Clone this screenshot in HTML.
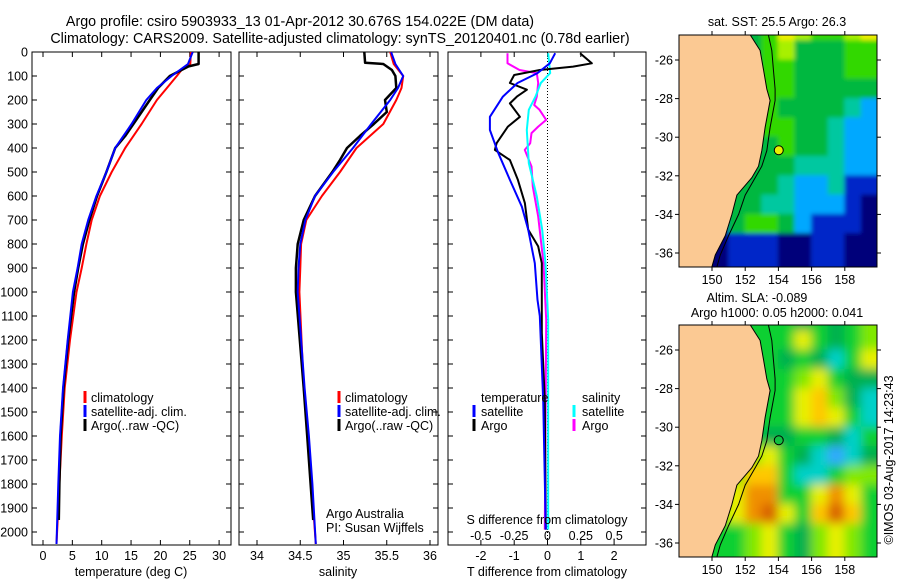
<!DOCTYPE html>
<html><head><meta charset="utf-8">
<style>
html,body{margin:0;padding:0;background:#fff;overflow:hidden;width:900px;height:580px;}
svg{display:block;font-family:"Liberation Sans",sans-serif;}
</style></head>
<body>
<svg id="fig" width="900" height="580" viewBox="0 0 900 580" xmlns="http://www.w3.org/2000/svg">
<defs>
<clipPath id="c1"><rect x="32" y="52" width="199" height="493"/></clipPath>
<clipPath id="c2"><rect x="239" y="52" width="199" height="493"/></clipPath>
<clipPath id="c3"><rect x="448" y="52" width="198" height="493"/></clipPath>
<clipPath id="m1"><rect x="679" y="35" width="198" height="232"/></clipPath>
<clipPath id="m2"><rect x="679" y="325" width="198" height="232"/></clipPath>
<filter id="blur" x="-10%" y="-10%" width="120%" height="120%"><feGaussianBlur stdDeviation="5"/></filter>
<filter id="blur1" x="-10%" y="-10%" width="120%" height="120%"><feGaussianBlur stdDeviation="2"/></filter>
</defs>
<text x="300" y="26" font-size="14.3" text-anchor="middle">Argo profile: csiro 5903933_13 01-Apr-2012 30.676S 154.022E (DM data)</text>
<text x="340" y="43" font-size="14.3" text-anchor="middle">Climatology: CARS2009. Satellite-adjusted climatology: synTS_20120401.nc (0.78d earlier)</text>
<g id="layer"></g>
</svg>
<script>
// ---------- data ----------
const depthT=[0,50,75,100,150,200,300,400,500,600,700,800,900,1000,1200,1400,1600,1800,2050];
const climT=[25.2,25.1,23.6,22.8,21.1,19.4,16.8,14.0,11.7,9.7,8.3,7.4,6.6,5.7,4.6,3.7,3.2,2.8,2.3];
const satT=[25.5,24.7,23.3,21.9,19.4,17.6,15.1,12.3,10.8,9.1,7.7,6.6,5.9,5.1,4.2,3.4,2.9,2.6,2.3];
const depthA=[0,50,60,75,100,150,200,250,300,350,400,500,600,700,800,900,1000,1200,1400,1600,1800,1950];
const argoT=[26.5,26.5,24.8,23.6,21.6,19.6,18.2,16.8,15.4,14.0,12.3,10.8,9.2,7.9,6.8,6.0,5.3,4.3,3.5,3.0,2.8,2.7];
const depthS=[0,50,100,150,200,300,400,500,600,700,800,900,1000,1400,1600,1800,2050];
const climS=[35.54,35.58,35.69,35.67,35.61,35.46,35.15,34.96,34.75,34.57,34.51,34.50,34.49,34.54,34.59,34.63,34.68];
const satS=[35.55,35.60,35.69,35.63,35.54,35.32,35.11,34.88,34.67,34.56,34.50,34.48,34.47,34.55,34.60,34.64,34.68];
const depthAS=[0,45,50,75,100,150,200,250,300,350,400,450,500,600,700,800,900,1000,1400,1600,1800,1950];
const argoS=[35.24,35.25,35.46,35.56,35.60,35.61,35.48,35.50,35.35,35.19,35.04,34.96,34.87,34.67,34.54,34.47,34.45,34.45,34.54,34.58,34.62,34.65];
const dDepthSatT=[5,47,88,129,186,270,325,420,533,645,740,880,1033,1100,1450,1990];
const dSatT=[0.23,0.07,-0.3,-0.9,-1.34,-1.73,-1.73,-1.48,-1.13,-0.77,-0.58,-0.38,-0.3,-0.23,-0.13,-0.05];
const dDepthArgoT=[5,47,61,75,96,129,157,186,214,270,311,380,408,450,533,630,740,810,880,1090,1170,1450,1990];
const dArgoT=[0.98,1.33,0.77,-0.23,-1.0,-1.13,-0.62,-0.92,-1.13,-0.83,-1.19,-1.53,-1.58,-1.13,-0.89,-0.68,-0.58,-0.28,-0.17,-0.17,-0.17,-0.08,-0.05];
const dDepthArgoS=[5,47,75,88,129,186,221,241,283,311,338,380,408,436,477,561,686,880,1116,1990];
const dArgoS=[-0.30,-0.30,-0.21,-0.08,-0.07,-0.08,-0.10,-0.06,-0.01,-0.07,-0.12,-0.13,-0.17,-0.15,-0.12,-0.11,-0.07,-0.03,-0.01,-0.02];
const dDepthSatS=[5,88,129,186,241,325,463,602,740,880,1116,1990];
const dSatS=[0.005,0.02,-0.05,-0.09,-0.14,-0.155,-0.14,-0.08,-0.04,-0.015,0.005,0.005];
const depthTicks=[0,100,200,300,400,500,600,700,800,900,1000,1100,1200,1300,1400,1500,1600,1700,1800,1900,2000];
const tempTicks=[0,5,10,15,20,25,30];
const salTicks=[34,34.5,35,35.5,36];
const salTickLabels=['34','34.5','35','35.5','36'];
const tdTicks=[-2,-1,0,1,2];
const sdTicks=[-0.5,-0.25,0,0.25,0.5];
const sdTickLabels=['-0.5','-0.25','0','0.25','0.5'];
const lonTicks=[150,152,154,156,158];
const latTicks=[-26,-28,-30,-32,-34,-36];
// map grids: rows lat -25..-36, cols lon 148..159 (land cells covered by land)
const sstGrid=[
[4,4,4,4,4,5,7,6,5,5,6,7],
[4,4,4,4,4,5,6,4,4,4,5,5],
[4,4,4,4,4,5,5,4,4,4,5,5],
[4,4,4,4,4,5,5,4,4,4,4,4],
[4,4,4,4,4,5,4,4,4,4,3,2],
[4,4,4,4,4,5,5,4,4,3,2,2],
[4,4,4,4,4,4,5,4,4,3,2,2],
[4,4,4,4,4,4,4,3,3,3,2,2],
[4,4,4,4,4,4,3,2,2,3,1,1],
[2,2,2,4,4,3,3,2,2,2,1,0],
[1,1,1,4,5,5,4,2,1,1,1,0],
[0,0,0,1,1,1,0,0,1,1,0,0]];
const slaGrid=[
[3,3,3,3,3,3,3,2,3,2,3,4],
[3,3,3,3,3,3,3,5,3,2,3,4],
[3,3,3,3,3,3,2,3,2,1,3,5],
[3,3,3,3,3,3,3,4,5,3,2,2],
[3,3,3,3,3,3,3,5,6,4,2,1],
[3,3,3,3,3,3,3,5,6,5,3,1],
[3,3,3,3,3,2,2,3,3,2,1,3],
[3,3,3,3,4,5,3,2,1,0,1,2],
[3,3,3,4,6,6,3,1,1,3,4,4],
[3,3,4,5,7,7,3,3,5,7,5,3],
[3,3,4,5,7,8,5,3,6,8,6,3],
[3,3,3,3,4,5,3,2,4,5,4,3]];
const coastLat=[-24.7,-25.5,-26.5,-27.5,-28.1,-29.5,-30.7,-31.5,-32.1,-33.0,-34.0,-35.1,-36.1,-36.7];
const coastLon=[152.3,152.9,153.1,153.3,153.5,153.2,153.0,152.8,152.4,151.5,151.2,150.8,150.2,150.0];
const isoLon=[153.4,153.6,153.7,153.8,153.8,153.5,153.3,153.0,152.6,152.0,151.6,151.0,150.5,150.3];
const argoLon=154.022, argoLat=-30.676;

// ---------- helpers ----------
const NS='http://www.w3.org/2000/svg';
const layer=document.getElementById('layer');
function mk(tag,attrs,parent){const e=document.createElementNS(NS,tag);for(const k in attrs)e.setAttribute(k,attrs[k]);(parent||layer).appendChild(e);return e;}
const Y=d=>52+d*0.24;
const xT=v=>43+v*5.87;
const xS=v=>257+(v-34)*86.5;
const xTD=v=>547.5+v*33.3;
const xSD=v=>547.5+v*133.3;
const mx=lon=>712+(lon-150)*16.6;
const my1=lat=>60+(-26-lat)*19.3;
const my2=lat=>350+(-26-lat)*19.3;

function stepPath(xs,ds,fx){let p='';for(let i=0;i<xs.length;i++){p+=(i?'L':'M')+fx(xs[i]).toFixed(1)+','+Y(ds[i]).toFixed(1);}return p;}
function line(xs,ds,fx,color,w,clip,name){
  const e=mk('path',{d:stepPath(xs,ds,fx),fill:'none',stroke:color,'stroke-width':w,'clip-path':'url(#'+clip+')','stroke-linejoin':'round'});
  
  
}
function frame(x,y,w,h,name){
  const e=mk('rect',{x:x,y:y,width:w,height:h,fill:'none',stroke:'#000','stroke-width':1});
  
  
}
function txt(x,y,s,anchor,size,name){
  const e=mk('text',{x:x,y:y,'font-size':size||12,'text-anchor':anchor||'start'});e.textContent=s;
  
  
  return e;
}
function depthTicksFor(x0,x1,withLabels){
  depthTicks.forEach(d=>{const y=Y(d);
    mk('line',{x1:x0,y1:y,x2:x0+5,y2:y,stroke:'#000'});
    mk('line',{x1:x1,y1:y,x2:x1-5,y2:y,stroke:'#000'});
    if(withLabels) txt(28,y+4.5,String(d),'end',12.5,'depth-tick-label');
  });
}
function xTicks(vals,labels,fx,x0,x1,top,bot,ly,name){
  vals.forEach((v,i)=>{const x=fx(v);
    mk('line',{x1:x,y1:top,x2:x,y2:top+5,stroke:'#000'});
    mk('line',{x1:x,y1:bot,x2:x,y2:bot-5,stroke:'#000'});
    if(ly) txt(x,ly,labels[i],'middle',12.5,name);
  });
}
function legendMark(x,y,color){mk('line',{x1:x,y1:y-11,x2:x,y2:y+1,stroke:color,'stroke-width':3});}

// ---------- panel 1: temperature ----------
frame(32,52,199,493,'temperature-panel');
depthTicksFor(32,231,true);
xTicks(tempTicks,tempTicks.map(String),xT,32,231,52,545,560,'temperature-tick-label');
line(climT,depthT,xT,'#ff0000',2,'c1','temp-climatology-line');
line(argoT,depthA,xT,'#000000',2.5,'c1','temp-argo-line');
line(satT,depthT,xT,'#0000ff',2,'c1','temp-satellite-line');
txt(131,576,'temperature (deg C)','middle',12.5,'temperature-axis-title');
legendMark(85,402,'#ff0000');txt(91,402,'climatology','start',12.5,'legend-climatology');
legendMark(85,416,'#0000ff');txt(91,416,'satellite-adj. clim.','start',12.5,'legend-satellite');
legendMark(85,430,'#000');txt(91,430,'Argo(..raw -QC)','start',12.5,'legend-argo');

// ---------- panel 2: salinity ----------
frame(239,52,199,493,'salinity-panel');
depthTicksFor(239,438,false);
xTicks(salTicks,salTickLabels,xS,239,438,52,545,560,'salinity-tick-label');
line(climS,depthS,xS,'#ff0000',2,'c2','sal-climatology-line');
line(argoS,depthAS,xS,'#000000',2.5,'c2','sal-argo-line');
line(satS,depthS,xS,'#0000ff',2,'c2','sal-satellite-line');
txt(338,576,'salinity','middle',12.5,'salinity-axis-title');
legendMark(339,402,'#ff0000');txt(345,402,'climatology','start',12.5,'legend-climatology-2');
legendMark(339,416,'#0000ff');txt(345,416,'satellite-adj. clim.','start',12.5,'legend-satellite-2');
legendMark(339,430,'#000');txt(345,430,'Argo(..raw -QC)','start',12.5,'legend-argo-2');
txt(326,518,'Argo Australia','start',12.5,'credit-argo-australia');
txt(326,532,'PI: Susan Wijffels','start',12.5,'credit-pi');

// ---------- panel 3: differences ----------
frame(448,52,198,493,'difference-panel');
depthTicksFor(448,646,false);
xTicks(tdTicks,tdTicks.map(String),xTD,448,646,52,545,560,'tdiff-tick-label');
mk('line',{x1:xTD(0),y1:52,x2:xTD(0),y2:545,stroke:'#000','stroke-dasharray':'1,2'});
line(dArgoS,dDepthArgoS,xSD,'#ff00ff',2,'c3','sdiff-argo-line');
line(dSatS,dDepthSatS,xSD,'#00ffff',2,'c3','sdiff-satellite-line');
line(dArgoT,dDepthArgoT,xTD,'#000000',2,'c3','tdiff-argo-line');
line(dSatT,dDepthSatT,xTD,'#0000ff',2,'c3','tdiff-satellite-line');
sdTicks.forEach((v,i)=>txt(xSD(v),540,sdTickLabels[i],'middle',12.5,'sdiff-tick-label'));
txt(547,524,'S difference from climatology','middle',12.5,'sdiff-axis-title');
txt(547,576,'T difference from climatology','middle',12.5,'tdiff-axis-title');
txt(481,402,'temperature','start',12.5,'legend-temperature-heading');
legendMark(474,416,'#0000ff');txt(481,416,'satellite','start',12.5,'legend-t-satellite');
legendMark(474,430,'#000');txt(481,430,'Argo','start',12.5,'legend-t-argo');
txt(582,402,'salinity','start',12.5,'legend-salinity-heading');
legendMark(574,416,'#00ffff');txt(582,416,'satellite','start',12.5,'legend-s-satellite');
legendMark(574,430,'#ff00ff');txt(582,430,'Argo','start',12.5,'legend-s-argo');

// ---------- maps ----------
const sstCols=['#00007a','#0028c8','#00a8ff','#00c8a0','#00b840','#30d800','#a8f000','#f0f000'];
const slaCols=['#30a8ff','#00d0c8','#00b050','#10d030','#80e800','#e8f000','#ffc800','#f09000','#d86000'];
function drawMap(grid,cols,my,clip,top,name,blur){
  const g=mk('g',{'clip-path':'url(#'+clip+')'});
  
  
  const inner=mk('g',{filter:'url(#'+blur+')'},g);
  const nr=grid.length, nc=grid[0].length;
  for(let r=-2;r<nr+2;r++){for(let c=-2;c<nc+2;c++){
    const rr=Math.min(nr-1,Math.max(0,r)), cc=Math.min(nc-1,Math.max(0,c));
    const v=grid[rr][cc];
    const lat=-24.5-r, lon=148+c;
    const cell=mk('rect',{x:mx(lon)-0.5,y:my(lat+0.5)-0.5,width:17.6,height:20.3,fill:cols[v]},inner);
    
    
  }}
  // land
  let p='M'+mx(140)+','+my(-20);
  coastLat.forEach((la,i)=>{p+='L'+mx(coastLon[i]).toFixed(1)+','+my(la).toFixed(1);});
  p+='L'+mx(coastLon[coastLon.length-1])+','+my(-40)+'L'+mx(140)+','+my(-40)+'Z';
  const land=mk('path',{d:p,fill:'#fbc993',stroke:'#000','stroke-width':1},g);
  
  
  let q='';isoLon.forEach((lo,i)=>{q+=(i?'L':'M')+mx(lo).toFixed(1)+','+my(coastLat[i]).toFixed(1);});
  mk('path',{d:q,fill:'none',stroke:'#000','stroke-width':1},g);
  const c=mk('circle',{cx:mx(argoLon),cy:my(argoLat),r:4.5,fill:grid===sstGrid?'#e8f000':'#10c040',stroke:'#000','stroke-width':1},g);
  
  
  frame(679,top,198,232,name+'-frame');
  lonTicks.forEach(l=>{const x=mx(l);mk('line',{x1:x,y1:top,x2:x,y2:top-4,stroke:'#000'});mk('line',{x1:x,y1:top+232,x2:x,y2:top+236,stroke:'#000'});txt(x,top+249,String(l),'middle',12.5,'lon-tick-label');});
  latTicks.forEach(l=>{const y=my(l);mk('line',{x1:679,y1:y,x2:675,y2:y,stroke:'#000'});mk('line',{x1:877,y1:y,x2:881,y2:y,stroke:'#000'});txt(673,y+4.5,String(l),'end',12.5,'lat-tick-label');});
}
drawMap(sstGrid,sstCols,my1,'m1',35,'sst-map','blur1');
drawMap(slaGrid,slaCols,my2,'m2',325,'sla-map','blur');
txt(777,26,'sat. SST: 25.5 Argo: 26.3','middle',12.5,'sst-map-title');
txt(757,302,'Altim. SLA: -0.089','middle',12.5,'sla-map-title');
txt(777,317,'Argo h1000: 0.05 h2000: 0.041','middle',12.5,'sla-map-subtitle');
const cp=txt(0,0,'\u00a9IMOS 03-Aug-2017 14:23:43','middle',12.5,'copyright-stamp');
cp.setAttribute('transform','translate(893,460) rotate(-90)');
</script>
</body></html>
